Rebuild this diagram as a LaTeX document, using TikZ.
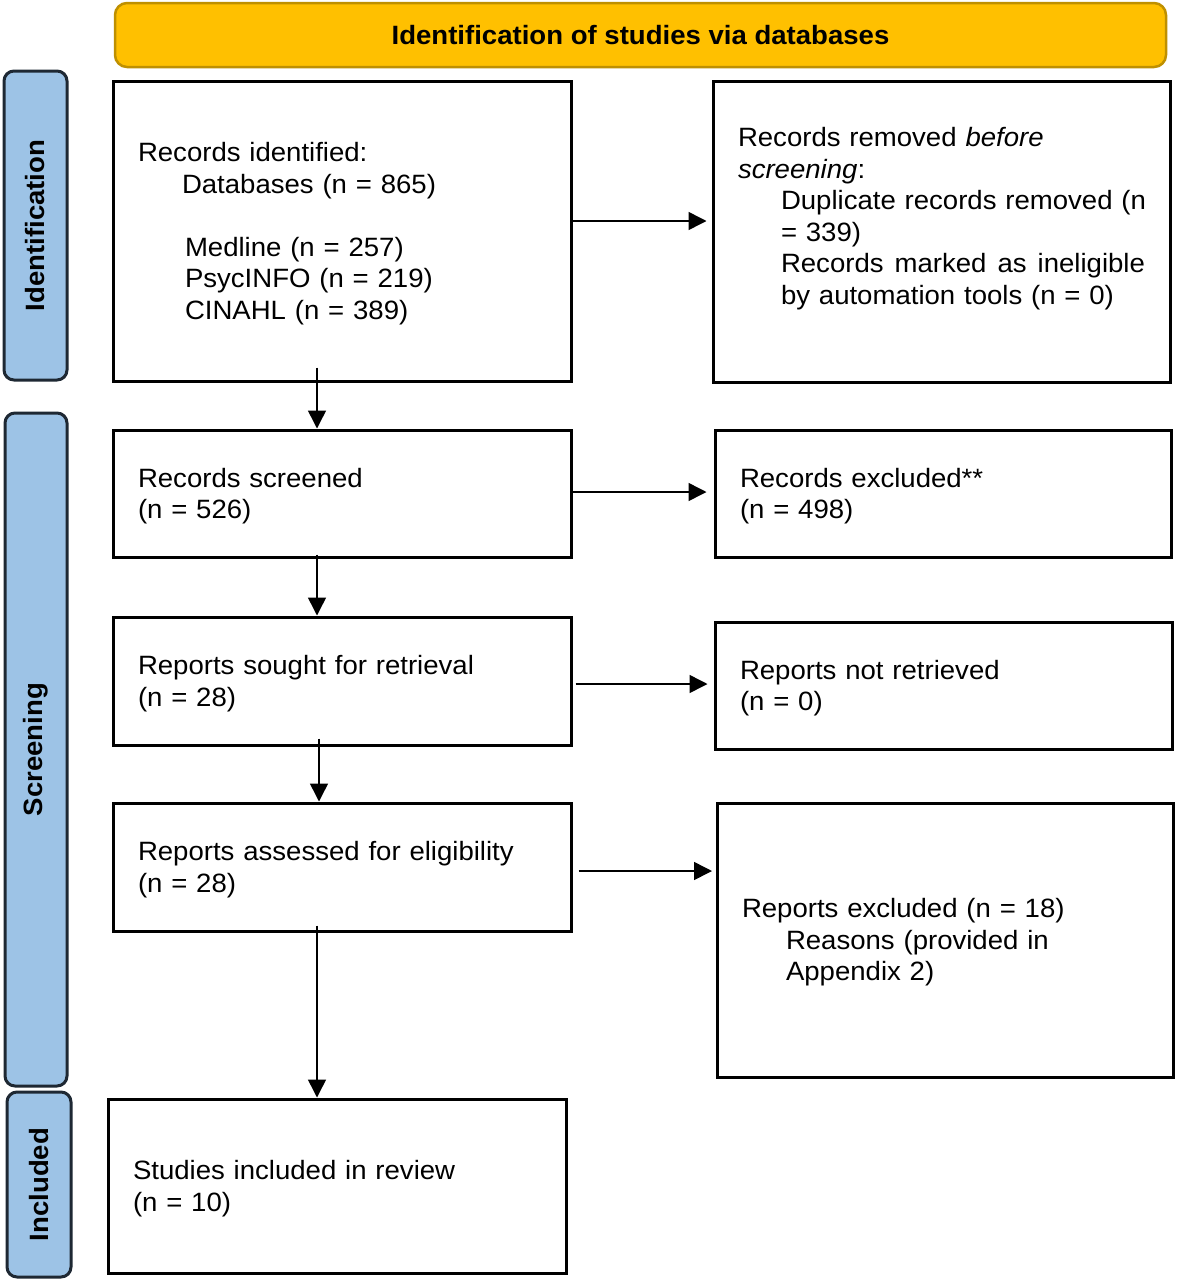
\documentclass[tikz,border=0pt]{standalone}
\usepackage{fontspec}
\setmainfont{Liberation Sans}[FakeStretch=1.04]
\usetikzlibrary{arrows.meta,calc}
\definecolor{banfill}{HTML}{FFC000}
\definecolor{banline}{HTML}{BF9000}
\definecolor{sidefill}{HTML}{9DC3E6}
\definecolor{sideline}{HTML}{1E2833}
\newcommand{\bodyfont}{\fontsize{26.5pt}{31.5pt}\selectfont}
\newcommand{\ind}[2]{\hspace*{#1pt}\mbox{#2}}
\newcommand{\tstrut}{\rule{0pt}{24pt}}
\begin{document}
\begin{tikzpicture}[x=1pt,y=-1pt,
  box/.style={draw=black, line width=3pt, fill=white, inner xsep=25pt, inner ysep=0pt,
    align=left, font=\bodyfont, text width=#1},
  side/.style={draw=sideline, line width=3pt, fill=sidefill, rounded corners=10pt,
    rotate=90, font=\bodyfont\bfseries, inner sep=0pt},
  banner/.style={draw=banline, line width=2.5pt, fill=banfill, rounded corners=12pt,
    font=\bodyfont\bfseries, inner sep=0pt},
  arr/.style={line width=1.5pt, -{Triangle[length=18pt,width=18pt]}}]
\useasboundingbox (0,0) rectangle (1178,1280);
\fill[white] (0,0) rectangle (1178,1280);

% banner
\node[banner, minimum width=1051pt, minimum height=64pt] (ban) at (640.5,35) {Identification of studies via databases};

% side labels
\node[side, minimum width=309pt, minimum height=63pt] (sid) at (35.5,225.5) {Identification};
\node[side, minimum width=673pt, minimum height=62pt] (sscr) at (36,749.5) {Screening};
\node[side, minimum width=185pt, minimum height=64pt] (sinc) at (39,1184.5) {Included};

% boxes
\node[box=408pt, minimum height=300pt] (b1) at (342,231) {\tstrut Records identified:\\
\ind{44}{Databases (n = 865)}\\[31.5pt]
\ind{47}{Medline (n = 257)}\\
\ind{47}{PsycINFO (n = 219)}\\
\ind{47}{CINAHL (n = 389)}};

\node[box=407pt, minimum height=301pt] (b2) at (941.5,231.5) {Records removed \textit{before}\\
\textit{screening}:\\
\ind{43}{Duplicate records removed (n}\\
\ind{43}{= 339)}\\
\hspace*{43pt}\makebox[364pt][l]{Records\hfill marked\hfill as\hfill ineligible}\\
\ind{43}{by automation tools (n = 0)}\\
\mbox{}};

\node[box=408pt, minimum height=127pt] (b3) at (342,493.5) {\tstrut Records screened\\(n = 526)};
\node[box=406pt, minimum height=127pt] (b4) at (943,493.5) {\tstrut Records excluded**\\(n = 498)};

\node[box=408pt, minimum height=128pt] (b5) at (342,681) {\tstrut Reports sought for retrieval\\(n = 28)};
\node[box=407pt, minimum height=127pt] (b6) at (943.5,685.5) {\tstrut Reports not retrieved\\(n = 0)};

\node[box=408pt, minimum height=128pt] (b7) at (342,867) {\tstrut Reports assessed for eligibility\\(n = 28)};
\node[box=406pt, minimum height=274pt] (b8) at (945,940) {\tstrut Reports excluded (n = 18)\\
\ind{44}{Reasons (provided in}\\
\ind{44}{Appendix 2)}};

\node[box=408pt, minimum height=174pt] (b9) at (337,1186) {\tstrut Studies included in review\\(n = 10)};

% horizontal arrows
\draw[arr] ([yshift=10pt]b1.east) coordinate (s12) -- ($(s12 -| b2.west)+(-5,0)$);
\draw[arr] ([yshift=1.5pt]b3.east) coordinate (s34) -- ($(s34 -| b4.west)+(-7,0)$);
\draw[arr] ([xshift=3pt,yshift=-3pt]b5.east) coordinate (s56) -- ($(s56 -| b6.west)+(-6,0)$);
\draw[arr] ([xshift=6pt,yshift=-4pt]b7.east) coordinate (s78) -- ($(s78 -| b8.west)+(-3.5,0)$);

% vertical arrows
\draw[arr] ([xshift=-25pt,yshift=15pt]b1.south) -- ([xshift=-25pt]b3.north);
\draw[arr] ([xshift=-25pt,yshift=4pt]b3.south) -- ([xshift=-25pt]b5.north);
\draw[arr] ([xshift=-23pt,yshift=8pt]b5.south) -- ([xshift=-23pt]b7.north);
\draw[arr] ([xshift=-25pt,yshift=7pt]b7.south) -- ([xshift=-20pt]b9.north);
\end{tikzpicture}
\end{document}
